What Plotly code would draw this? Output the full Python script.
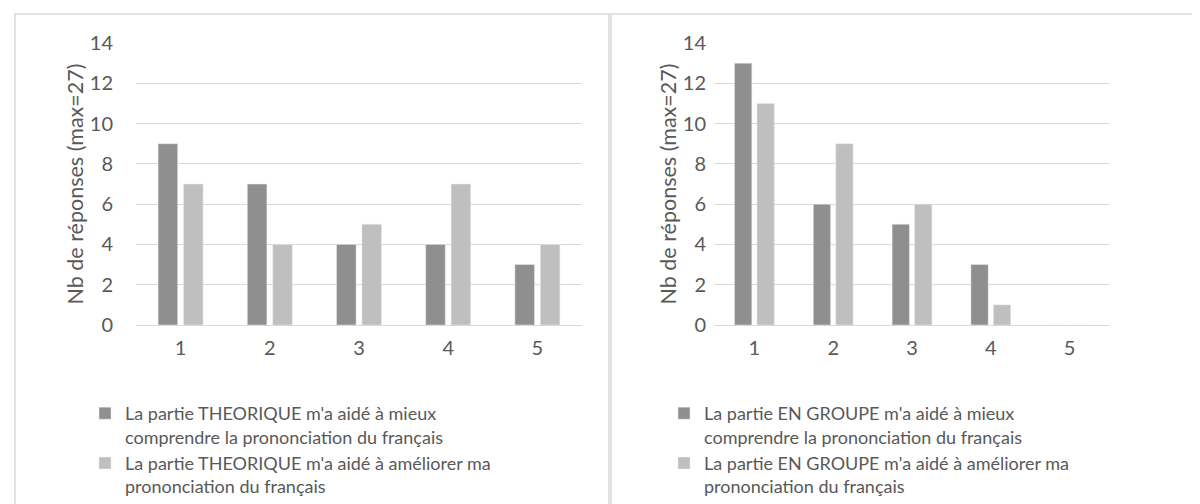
import plotly.graph_objects as go

categories = ["1", "2", "3", "4", "5"]

theorique_comprendre = [9, 7, 4, 4, 3]
theorique_ameliorer = [7, 4, 5, 7, 4]
groupe_comprendre = [13, 6, 5, 3, 0]
groupe_ameliorer = [11, 9, 6, 1, 0]

names_left = [
    "La partie THEORIQUE m'a aidé à mieux<br>comprendre la prononciation du français",
    "La partie THEORIQUE m'a aidé à améliorer ma<br>prononciation du français",
]
names_right = [
    "La partie EN GROUPE m'a aidé à mieux<br>comprendre la prononciation du français",
    "La partie EN GROUPE m'a aidé à améliorer ma<br>prononciation du français",
]

DARK = "#8f8f8f"
LIGHT = "#bfbfbf"
TEXT = "#595959"
GRID = "#d9d9d9"
FONT = "Lato"

W, H = 1200, 504

fig = go.Figure()

# left panel
fig.add_trace(go.Bar(x=categories, y=theorique_comprendre, name=names_left[0],
                     marker_color=DARK, xaxis="x", yaxis="y", legend="legend"))
fig.add_trace(go.Bar(x=categories, y=theorique_ameliorer, name=names_left[1],
                     marker_color=LIGHT, xaxis="x", yaxis="y", legend="legend"))

# right panel
fig.add_trace(go.Bar(x=categories, y=groupe_comprendre, name=names_right[0],
                     marker_color=DARK, xaxis="x2", yaxis="y2", legend="legend2"))
fig.add_trace(go.Bar(x=categories, y=groupe_ameliorer, name=names_right[1],
                     marker_color=LIGHT, xaxis="x2", yaxis="y2", legend="legend2"))

ydom = [1 - 317 / H, 1 - 35 / H]

xaxis_style = dict(
    showgrid=False, zeroline=False, showline=False, ticks="",
    tickfont=dict(family=FONT, size=20, color=TEXT), ticklabelstandoff=9,
)


def yaxis_style(label_gap, title_gap):
    return dict(
        range=[0, 14], dtick=2, showgrid=True, gridcolor=GRID, gridwidth=1,
        zeroline=True, zerolinecolor=GRID, zerolinewidth=1, showline=False, ticks="",
        tickfont=dict(family=FONT, size=20, color=TEXT), ticklabelstandoff=label_gap,
        title=dict(text="Nb de réponses (max=27)",
                   font=dict(family=FONT, size=21.5, color=TEXT), standoff=title_gap),
    )


legend_style = dict(
    font=dict(family=FONT, size=18, color=TEXT), bgcolor="rgba(0,0,0,0)",
    valign="top", itemwidth=30, tracegroupgap=0,
    xanchor="left", yanchor="top", traceorder="normal",
)

fig.update_layout(
    width=W, height=H,
    margin=dict(l=0, r=0, t=0, b=0, autoexpand=False),
    paper_bgcolor="white", plot_bgcolor="white",
    barmode="group", bargap=0.43, bargroupgap=0.23,
    xaxis=dict(domain=[128 / W, 574 / W], anchor="y", **xaxis_style),
    yaxis=dict(domain=ydom, anchor="x", **yaxis_style(22, 0)),
    xaxis2=dict(domain=[707 / W, 1101 / W], anchor="y2", **xaxis_style),
    yaxis2=dict(domain=ydom, anchor="x2", **yaxis_style(8, 0)),
    legend=dict(x=77 / W, y=1 - 387 / H, **legend_style),
    legend2=dict(x=656 / W, y=1 - 387 / H, **legend_style),
    shapes=[
        dict(type="rect", xref="paper", yref="paper",
             x0=7 / W, x1=601 / W, y0=-0.05, y1=1 - 6 / H,
             line=dict(color=GRID, width=1.5)),
        dict(type="rect", xref="paper", yref="paper",
             x0=603 / W, x1=1193 / W, y0=-0.05, y1=1 - 6 / H,
             line=dict(color=GRID, width=1.5)),
    ],
)

fig.write_html("out.html")
